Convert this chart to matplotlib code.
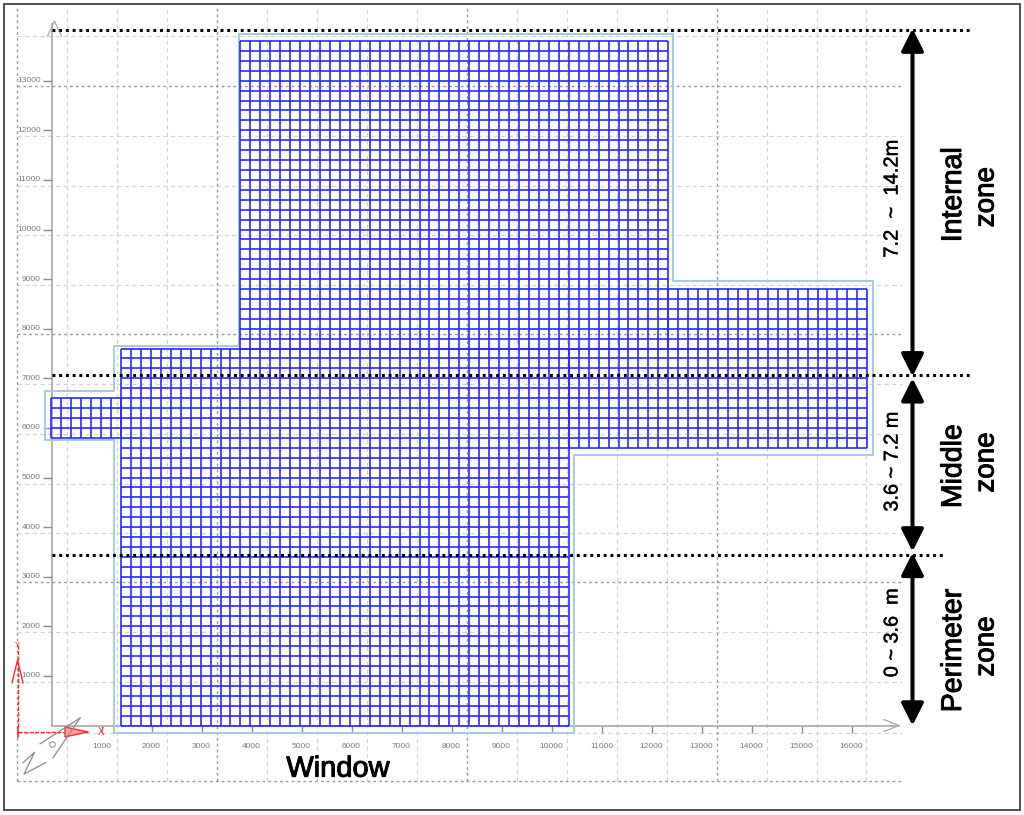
import numpy as np
import matplotlib
matplotlib.use('Agg')
import matplotlib.pyplot as plt
import matplotlib.patheffects as pe
from matplotlib.patches import FancyArrowPatch, Rectangle

plt.rcParams['font.family'] = ['Liberation Sans', 'DejaVu Sans']

# Plan tick values (mm)
x_ticks = [1000, 2000, 3000, 4000, 5000, 6000, 7000, 8000, 9000, 10000, 11000, 12000, 13000, 14000, 15000, 16000]
y_ticks = [1000, 2000, 3000, 4000, 5000, 6000, 7000, 8000, 9000, 10000, 11000, 12000, 13000]

# Background snap grid (mm), the heavier ones are the major lines
grid_x = [304, 1304, 2304, 4304, 5304, 6304, 7304, 9304, 10304, 11304, 12304, 14304, 15304, 16290]
grid_x_major = [-684, 3304, 8304, 13304]
grid_y = [13900, 11885, 10877, 9880, 8880, 6885, 5877, 4869, 3881, 1885, 877, -150]
grid_y_major = [12899, 7899, 2893, -1119]

# Mesh blocks: x start, x end, y start, y end (in mesh cells)
mesh_dx = 199
mesh_dy = 200
mesh_x0 = 1390
mesh_blocks = [
    (0, 45, 0, 38),
    (-7, 0, 29, 33),
    (45, 75, 28, 38),
    (12, 55, 38, 69),
    (55, 75, 38, 44),
]

# Room outline (mm)
outline_x = [1250, 10440, 10440, 16430, 16430, 12430, 12430, 3740, 3740, 1250, 1250, -140, -140, 1250, 1250]
outline_y = [-150, -150, 5450, 5450, 8960, 8960, 13950, 13950, 7660, 7660, 6750, 6750, 5750, 5750, -150]

# Zone limits (mm)
zone_y = [14020, 7060, 3430]
zone_end = [18390, 18390, 17850]

# Arrow x and extents (mm)
arrow_x = 17220
arrow_spans = [(14050, 7040), (7000, 3510), (3480, 0)]

fig = plt.figure(figsize=(10.24, 8.15), dpi=100)
ax = fig.add_axes([0, 0, 1, 1])
ax.set_xlim(-1030, 19450)
ax.set_ylim(-1804, 14627)
ax.axis('off')

# Snap grid
light = dict(color='#d2d2d2', lw=0.85, ls=(0, (3.5, 3)), zorder=1)
dark = dict(color='#9a9a9a', lw=1.0, ls=(0, (2, 2.2)), zorder=1)
ax.vlines(grid_x, -1119, 14460, **light)
ax.hlines(grid_y, -684, 17000, **light)
ax.vlines(grid_x_major, -1119, 14460, **dark)
ax.hlines(grid_y_major, -684, 17000, **dark)

# Plan axes
ax.plot([0, 0], [-10, 14150], color='#a8a8a8', lw=1.2, zorder=1.5)
ax.plot([0, 16950], [0, 0], color='#a8a8a8', lw=1.2, zorder=1.5)
ax.plot([16650, 16950, 16650], [120, 0, -120], color='#a8a8a8', lw=0.9, zorder=1.5)
ax.plot([-80, 60, 200], [13900, 14200, 13900], color='#a8a8a8', lw=0.9, zorder=1.5)
ax.vlines(x_ticks, -150, 0, color='#8a8a8a', lw=1.0, zorder=1.5)
ax.hlines(y_ticks, -170, 0, color='#8a8a8a', lw=1.0, zorder=1.5)
for v in x_ticks:
    ax.text(v, -420, str(v), ha='center', va='center', fontsize=6, color='#7a7a7a')
for v in y_ticks:
    ax.text(-215, v, str(v), ha='right', va='center', fontsize=6, color='#7a7a7a')

# Outline and mesh
ax.plot(outline_x, outline_y, color='#a4cbe0', lw=1.4, zorder=2)
for i0, i1, j0, j1 in mesh_blocks:
    xs = mesh_x0 + np.arange(i0, i1 + 1) * mesh_dx
    ys = np.arange(j0, j1 + 1) * mesh_dy
    ax.vlines(xs, ys[0], ys[-1], color='#2a2aff', lw=1.2, zorder=3)
    ax.hlines(ys, xs[0], xs[-1], color='#2a2aff', lw=1.2, zorder=3)

# UCS icon
ax.plot([-680, -680], [-30, 1650], color='#f03030', lw=1, ls=(0, (3, 1)), zorder=4)
ax.plot([-790, -680, -570], [860, 1320, 860], color='#f03030', lw=1, zorder=4)
ax.plot([-680, 730], [-130, -130], color='#f03030', lw=1, ls=(0, (3, 1)), zorder=4)
ax.fill([270, 730, 270], [-30, -130, -230], facecolor='#f8a0a0', edgecolor='#f03030', lw=1, zorder=4)
ax.text(-680, 1620, 'Y', ha='center', va='center', fontsize=5.5, color='#f03030')
ax.text(1000, -130, 'X', ha='center', va='center', fontsize=7, color='#f03030')
ax.plot([-680, -680], [-230, -30], color='#f03030', lw=1.2, zorder=4)

# North symbol and break mark
ax.plot([570, -230], [150, -370], color='#8a8a8a', lw=0.9, zorder=4)
ax.plot([570, 30], [150, -650], color='#8a8a8a', lw=0.9, zorder=4)
ax.plot([-570, -340, -550, -120], [-750, -540, -980, -750], color='#8a8a8a', lw=0.9, zorder=4)
ax.plot([10], [-370], marker='o', ms=4, mfc='none', mec='#8a8a8a', mew=0.7, zorder=4)

# Zone limits
for z, end in zip(zone_y, zone_end):
    ax.plot([0, end], [z, z], color='black', lw=2.2, ls=(0, (0.95, 1.25)), zorder=5)

# Arrows
for top, bottom in arrow_spans:
    arr = FancyArrowPatch((arrow_x, top), (arrow_x, bottom), arrowstyle='<|-|>,head_length=13.5,head_width=6.8',
                          mutation_scale=1, shrinkA=0, shrinkB=0, lw=2.9, color='black', zorder=6)
    ax.add_patch(arr)

# Zone text
heavy = [pe.withStroke(linewidth=0.7, foreground='black')]
medium = [pe.withStroke(linewidth=0.3, foreground='black')]
ax.text(16810, 10620, '7.2  ~  14.2m', rotation=90, ha='center', va='center', fontsize=14.5, path_effects=medium)
ax.text(16810, 5320, '3.6 ~ 7.2 m', rotation=90, ha='center', va='center', fontsize=14.3, path_effects=medium)
ax.text(16810, 1870, '0 ~ 3.6  m', rotation=90, ha='center', va='center', fontsize=14.3, path_effects=medium)

ax.text(18050, 10700, 'Internal', rotation=90, ha='center', va='center', fontsize=20.5, path_effects=heavy)
ax.text(18700, 10650, 'zone', rotation=90, ha='center', va='center', fontsize=20, path_effects=heavy)
ax.text(18050, 5230, 'Middle', rotation=90, ha='center', va='center', fontsize=20.5, path_effects=heavy)
ax.text(18700, 5300, 'zone', rotation=90, ha='center', va='center', fontsize=20, path_effects=heavy)
ax.text(18050, 1510, 'Perimeter', rotation=90, ha='center', va='center', fontsize=20.5, path_effects=heavy)
ax.text(18700, 1590, 'zone', rotation=90, ha='center', va='center', fontsize=20, path_effects=heavy)
ax.text(5730, -870, 'Window', ha='center', va='center', fontsize=20.9, path_effects=heavy)

# Picture frame
frame = Rectangle((0.0042, 0.0063), 0.9917, 0.9888, transform=ax.transAxes, fill=False, edgecolor='#303030', lw=1.2, zorder=7)
ax.add_patch(frame)

fig.savefig('out.png', dpi=100)
